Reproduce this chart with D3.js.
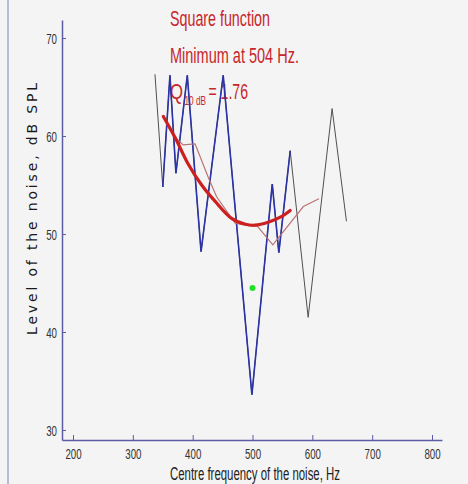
<!DOCTYPE html>
<html>
<head>
<meta charset="utf-8">
<script src="https://cdn.jsdelivr.net/npm/d3@7"></script>
<style>
  body { margin: 0; background: #f4f4f4; }
  svg { display: block; }
  .narrow { font-family: "Liberation Sans Narrow", "Liberation Sans", Arial, sans-serif; }
</style>
</head>
<body>
<div id="chart"></div>
<script>
// noise level vs centre frequency
var rawFreq = [337, 350, 362, 372, 391, 414, 451, 499, 533, 544, 563, 593, 633, 657];
var rawLevel = [66.3, 54.8, 66.2, 56.2, 66.2, 48.2, 66.2, 33.6, 55.1, 48.1, 58.5, 41.5, 62.8, 51.3];

var fitRangeFreq = [350, 362, 372, 391, 414, 451, 499, 533, 544, 563];
var fitRangeLevel = [54.8, 66.2, 56.2, 66.2, 48.2, 66.2, 33.6, 55.1, 48.1, 58.5];

var smoothFreq = [357, 370, 384, 404, 426, 440, 471, 500, 508, 534, 585, 611];
var smoothLevel = [61.1, 59.9, 59.1, 59.2, 55.8, 53.8, 51.1, 50.8, 50.8, 48.9, 52.8, 53.6];

var fitFreq = [351, 371, 392, 415, 438, 465, 488, 504, 526, 549, 563];
var fitLevel = [62.0, 59.8, 57.2, 55.0, 53.3, 51.6, 51.0, 50.9, 51.2, 51.8, 52.4];

var minPoint = [500, 44.5];

var xTicks = [200, 300, 400, 500, 600, 700, 800];
var yTicks = [30, 40, 50, 60, 70];

var width = 468, height = 484;
var axisColor = '#5c5ca4';

var svg = d3.select('#chart').append('svg')
    .attr('width', width)
    .attr('height', height);

svg.append('rect')
    .attr('width', width)
    .attr('height', height)
    .attr('fill', '#f4f4f4');

// frame edge on the left
svg.append('line')
    .attr('x1', 8).attr('x2', 8)
    .attr('y1', 0).attr('y2', height)
    .style('stroke', '#b4bcd6')
    .style('stroke-width', 2);

var x = d3.scaleLinear().domain([181.6, 816.7]).range([62, 442]);
var y = d3.scaleLinear().domain([28.98, 71.84]).range([440, 20]);

function zip(a, b) {
    return a.map(function(d, i) { return [d, b[i]]; });
}

// squeeze a text sideways to a given width (the picture's font is condensed)
function squeeze(sel, px, py, w) {
    var natural = sel.node().getComputedTextLength();
    sel.attr('transform', 'translate(' + px + ',' + py + ') scale(' + (w / natural) + ',1)');
    return sel;
}

// texts first, the lines run over them
var red = '#c8262a';
var notes = svg.append('g').attr('class', 'narrow').style('fill', red);
squeeze(notes.append('text').style('font-size', '22px').text('Square function'), 170, 26, 100);
squeeze(notes.append('text').style('font-size', '22px').text('Minimum at 504 Hz.'), 170, 63, 129);
squeeze(notes.append('text').style('font-size', '22px').text('Q'), 170, 99, 13);
squeeze(notes.append('text').style('font-size', '13px').text('10 dB'), 184.5, 105, 21.5);
squeeze(notes.append('text').style('font-size', '22px').text('= 1.76'), 208.5, 99, 39.5);

// axes
var xAxis = svg.append('g')
    .attr('transform', 'translate(0,440)')
    .call(d3.axisBottom(x).tickValues(xTicks).tickSize(-5).tickSizeOuter(0).tickPadding(8));
var yAxis = svg.append('g')
    .attr('transform', 'translate(62,0)')
    .call(d3.axisLeft(y).tickValues(yTicks).tickSize(-4).tickSizeOuter(0).tickPadding(5));

[xAxis, yAxis].forEach(function(ax) {
    ax.select('.domain').style('stroke', axisColor).style('stroke-width', 1.5);
    ax.selectAll('.tick line').style('stroke', axisColor);
    ax.selectAll('.tick text')
        .attr('class', 'narrow')
        .style('font-size', '15px')
        .style('fill', '#333')
        .attr('lengthAdjust', 'spacingAndGlyphs')
        .attr('textLength', function(d) { return String(d).length * 5.4; });
});
yAxis.selectAll('.tick text').attr('dy', '0.35em');

svg.append('text')
    .attr('class', 'narrow')
    .attr('x', 255).attr('y', 480)
    .attr('text-anchor', 'middle')
    .attr('textLength', 170).attr('lengthAdjust', 'spacingAndGlyphs')
    .style('font-size', '18px')
    .style('fill', '#222')
    .text('Centre frequency of the noise, Hz');

svg.append('text')
    .attr('transform', 'translate(37,209) rotate(-90)')
    .attr('text-anchor', 'middle')
    .attr('textLength', 252).attr('lengthAdjust', 'spacing')
    .style('font-family', '"DejaVu Sans", Verdana, sans-serif')
    .style('font-size', '14px')
    .style('fill', '#1a1a1a')
    .text('Level of the noise, dB SPL');

// data lines
var line = d3.line()
    .x(function(d) { return x(d[0]); })
    .y(function(d) { return y(d[1]); });

svg.append('path')
    .datum(zip(rawFreq, rawLevel))
    .attr('d', line)
    .style('fill', 'none')
    .style('stroke', '#505050')
    .style('stroke-width', 1);

svg.append('path')
    .datum(zip(fitRangeFreq, fitRangeLevel))
    .attr('d', line)
    .style('fill', 'none')
    .style('stroke', '#2b33a6')
    .style('stroke-width', 1.6);

svg.append('path')
    .datum(zip(smoothFreq, smoothLevel))
    .attr('d', line)
    .style('fill', 'none')
    .style('stroke', '#bb7373')
    .style('stroke-width', 1.2);

svg.append('path')
    .datum(zip(fitFreq, fitLevel))
    .attr('d', line.curve(d3.curveCatmullRom))
    .style('fill', 'none')
    .style('stroke', '#cc2020')
    .style('stroke-width', 3.2)
    .style('stroke-linecap', 'round');

svg.append('circle')
    .attr('cx', x(minPoint[0]))
    .attr('cy', y(minPoint[1]))
    .attr('r', 3)
    .style('fill', '#22e02a');
</script>
</body>
</html>
